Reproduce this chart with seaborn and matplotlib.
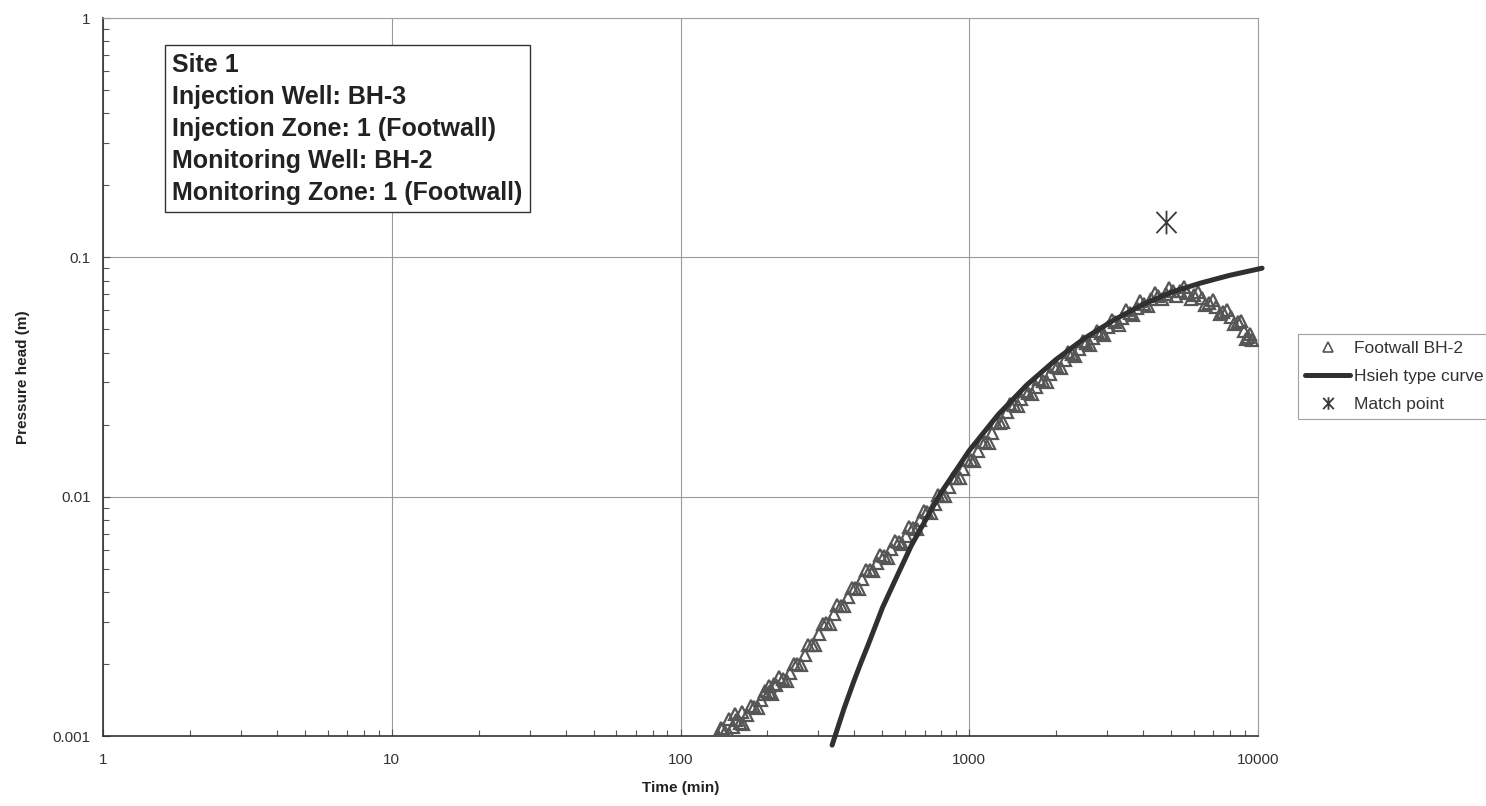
import matplotlib
matplotlib.use("Agg")
import matplotlib.pyplot as plt
import seaborn as sns
import pandas as pd
from matplotlib.path import Path
from matplotlib.lines import Line2D
from matplotlib.ticker import FixedLocator, FixedFormatter, LogLocator, NullFormatter

# ---------------- data ----------------
# Footwall BH-2 observations: points read along the dense measured band
fw_time = [134.9, 142.9, 151.4, 160.3, 169.8, 179.9, 190.5, 201.8, 213.8, 226.5,
           239.9, 254.1, 269.2, 285.1, 302.0, 319.9, 338.8, 358.9, 380.2, 402.7,
           426.6, 451.9, 478.6, 507.0, 537.0, 568.9, 602.6, 638.3, 676.1, 716.1,
           758.6, 803.5, 851.1, 901.6, 955.0, 1011.6, 1071.5, 1135.0, 1202.3, 1273.5,
           1349.0, 1428.9, 1513.6, 1603.2, 1698.2, 1798.9, 1905.5, 2018.4, 2138.0, 2264.6,
           2398.8, 2541.0, 2691.5, 2851.0, 3020.0, 3198.9, 3388.4, 3589.2, 3801.9, 4027.2,
           4265.8, 4518.6, 4786.3, 5069.9, 5370.3, 5688.5, 6025.6, 6382.6, 6760.8, 7161.4,
           7585.8, 8035.3, 8511.4, 8912.5, 9225.7, 9506.1,
           138.8, 147.1, 155.8, 165.0, 174.8, 185.1, 196.1, 207.7, 220.0, 233.1,
           246.9, 261.5, 277.0, 293.4, 310.9, 329.3, 348.7, 369.4, 391.3, 414.5,
           439.1, 465.1, 492.7, 521.9, 552.8, 585.6, 620.3, 657.1, 696.0, 737.3,
           781.0, 827.3, 876.4, 928.3, 983.3, 1041.6, 1103.4, 1168.8, 1238.1, 1311.5,
           1389.3, 1471.6, 1558.9, 1651.3, 1749.2, 1852.9, 1962.7, 2079.0, 2202.3, 2332.8,
           2471.1, 2617.6, 2772.7, 2937.1, 3111.2, 3295.6, 3487.0, 3694.0, 3913.0, 4145.0,
           4391.0, 4651.0, 4927.0, 5219.0, 5528.0, 5856.0, 6203.0, 6571.0, 6960.0, 7373.0,
           7810.0, 8273.0, 8710.0, 9071.0, 9365.0,
           138.0, 147.0, 155.0, 163.0, 195.0, 203.0, 210.0]
fw_head = [0.00100, 0.001042, 0.001086, 0.001138, 0.001225, 0.001318, 0.001419, 0.001528, 0.001626, 0.001730,
           0.001837, 0.001991, 0.002178, 0.002393, 0.002661, 0.002958, 0.003228, 0.003499, 0.003802, 0.004145,
           0.004519, 0.004926, 0.005284, 0.005642, 0.006026, 0.006442, 0.006871, 0.007362, 0.007962, 0.008630,
           0.009333, 0.01009, 0.01096, 0.01195, 0.01303, 0.01421, 0.01549, 0.01689, 0.01841, 0.02037,
           0.02252, 0.02427, 0.02570, 0.02723, 0.02884, 0.03055, 0.03251, 0.03478, 0.03724, 0.03947,
           0.04159, 0.04375, 0.04603, 0.04842, 0.05093, 0.05358, 0.05598, 0.05854, 0.06124, 0.06404,
           0.06699, 0.06909, 0.07055, 0.07203, 0.07234, 0.07084, 0.06938, 0.06761, 0.06469, 0.06186,
           0.05909, 0.05632, 0.05370, 0.04943, 0.04645, 0.04508,
           0.001069, 0.001016, 0.001164, 0.001127, 0.001330, 0.001306, 0.001542, 0.001505, 0.001756, 0.001702,
           0.002002, 0.001988, 0.002390, 0.002410, 0.002938, 0.002951, 0.003519, 0.003483, 0.004159, 0.004130,
           0.004943, 0.004875, 0.005715, 0.005566, 0.006524, 0.006353, 0.007447, 0.007311, 0.008684, 0.008570,
           0.01016, 0.01005, 0.01199, 0.01191, 0.01426, 0.01416, 0.01694, 0.01683, 0.02028, 0.02046,
           0.02449, 0.02385, 0.02770, 0.02676, 0.03108, 0.03009, 0.03524, 0.03436, 0.04018, 0.03873,
           0.04467, 0.04285, 0.04943, 0.04742, 0.05470, 0.05230, 0.05998, 0.05715, 0.06561, 0.06252,
           0.07129, 0.06668, 0.07464, 0.06893, 0.07499, 0.06699, 0.07178, 0.06317, 0.06622, 0.05781,
           0.06039, 0.05253, 0.05395, 0.04575, 0.04792,
           0.00108, 0.00118, 0.00124, 0.00126, 0.00150, 0.00162, 0.00165]

curve_time = [335, 343, 369, 398, 422, 447, 501, 562, 631, 708, 794, 891, 1000, 1259, 1585, 1995,
              2512, 3162, 3981, 5012, 6310, 7943, 10000, 10330]
curve_head = [0.000916, 0.001, 0.001309, 0.001688, 0.002030, 0.002413, 0.003447, 0.004650, 0.006273,
              0.008035, 0.01029, 0.01266, 0.01558, 0.02201, 0.02935, 0.03737, 0.04596, 0.05463,
              0.06344, 0.07150, 0.07800, 0.08400, 0.08930, 0.09010]

match_time = [4800]
match_head = [0.14]

x_ticks = [1, 10, 100, 1000, 10000]
x_tick_labels = ["1", "10", "100", "1000", "10000"]
y_ticks = [0.001, 0.01, 0.1, 1]
y_tick_labels = ["0.001", "0.01", "0.1", "1"]

info_lines = ["Site 1", "Injection Well: BH-3", "Injection Zone: 1 (Footwall)",
              "Monitoring Well: BH-2", "Monitoring Zone: 1 (Footwall)"]
legend_labels = ["Footwall BH-2", "Hsieh type curve", "Match point"]

# ---------------- figure ----------------
sns.set_theme(style="white")
plt.rcParams["font.family"] = ["Liberation Sans", "DejaVu Sans"]

fig = plt.figure(figsize=(14.86, 8.06), dpi=100)
W, H = 1486, 806
ax = fig.add_axes([103 / W, 1 - 736 / H, (1258 - 103) / W, (736 - 18) / H])
ax.set_xscale("log")
ax.set_yscale("log")

fw_df = pd.DataFrame({"t": fw_time, "h": fw_head})
cv_df = pd.DataFrame({"t": curve_time, "h": curve_head})
mp_df = pd.DataFrame({"t": match_time, "h": match_head})

data_col = "#565656"
curve_col = "#303030"

sns.lineplot(data=fw_df, x="t", y="h", ax=ax, estimator=None, sort=False,
             linestyle="", marker="^", markersize=8.5, markerfacecolor="none",
             markeredgecolor=data_col, markeredgewidth=1.6, color=data_col, zorder=3)
sns.lineplot(data=cv_df, x="t", y="h", ax=ax, estimator=None, sort=False,
             color=curve_col, linewidth=3.6, zorder=4, clip_on=False)

star = Path([(0, -1), (0, 1), (-0.85, -0.9), (0.85, 0.9), (-0.85, 0.9), (0.85, -0.9)],
            [Path.MOVETO, Path.LINETO, Path.MOVETO, Path.LINETO, Path.MOVETO, Path.LINETO])
sns.lineplot(data=mp_df, x="t", y="h", ax=ax, estimator=None, linestyle="",
             marker=star, markersize=17, markeredgewidth=1.3, color="#3a3a3a",
             markeredgecolor="#3a3a3a", zorder=5)

ax.set_xlim(1, 10000)
ax.set_ylim(0.001, 1)

ax.xaxis.set_major_locator(FixedLocator(x_ticks))
ax.xaxis.set_major_formatter(FixedFormatter(x_tick_labels))
ax.yaxis.set_major_locator(FixedLocator(y_ticks))
ax.yaxis.set_major_formatter(FixedFormatter(y_tick_labels))
ax.xaxis.set_minor_locator(LogLocator(base=10, subs=range(2, 10)))
ax.yaxis.set_minor_locator(LogLocator(base=10, subs=range(2, 10)))
ax.xaxis.set_minor_formatter(NullFormatter())
ax.yaxis.set_minor_formatter(NullFormatter())

ax.tick_params(which="both", direction="in", color="#555555", width=0.8,
               bottom=True, left=True, top=False, right=False)
ax.tick_params(which="major", length=5, labelsize=11, labelcolor="#333333")
ax.tick_params(axis="x", which="major", pad=12)
ax.tick_params(axis="y", which="major", pad=9)
ax.tick_params(which="minor", length=4)

ax.grid(True, which="major", color="#9a9a9a", linewidth=0.8)
ax.grid(False, which="minor")
for s in ["left", "bottom"]:
    ax.spines[s].set_color("#333333")
    ax.spines[s].set_linewidth(1.2)
for s in ["top", "right"]:
    ax.spines[s].set_color("#a0a0a0")
    ax.spines[s].set_linewidth(0.8)
ax.set_facecolor("white")

lab_font = dict(family=["Liberation Sans Narrow", "Liberation Sans", "DejaVu Sans"],
                size=11, color="#222222", weight="bold")
ax.set_xlabel("Time (min)", labelpad=10, **lab_font)
ax.set_ylabel("Pressure head (m)", labelpad=16, **lab_font)

ax.text((172 - 103) / (1258 - 103), 1 - (53 - 18) / (736 - 18), "\n".join(info_lines),
        transform=ax.transAxes, ha="left", va="top", fontsize=18, fontweight="bold",
        color="#222222", linespacing=1.42, zorder=6,
        bbox=dict(boxstyle="square,pad=0.3", facecolor="white", edgecolor="#333333", linewidth=1.0))

handles = [
    Line2D([], [], linestyle="", marker="^", markersize=7, markerfacecolor="none",
           markeredgecolor=data_col, markeredgewidth=1.2),
    Line2D([], [], color=curve_col, linewidth=3.6),
    Line2D([], [], linestyle="", marker=star, markersize=9, markeredgewidth=1.3,
           color="#3a3a3a"),
]
leg = fig.legend(handles, legend_labels, loc="upper left",
                 bbox_to_anchor=(1298 / W, 1 - 334 / H), fontsize=12.5,
                 frameon=True, fancybox=False, edgecolor="#888888",
                 handlelength=2.6, handletextpad=0.2, borderpad=0.4,
                 labelspacing=0.75, borderaxespad=0)
leg.get_frame().set_linewidth(0.8)
for t in leg.get_texts():
    t.set_color("#333333")

fig.savefig("out.png", dpi=100, facecolor="white")
